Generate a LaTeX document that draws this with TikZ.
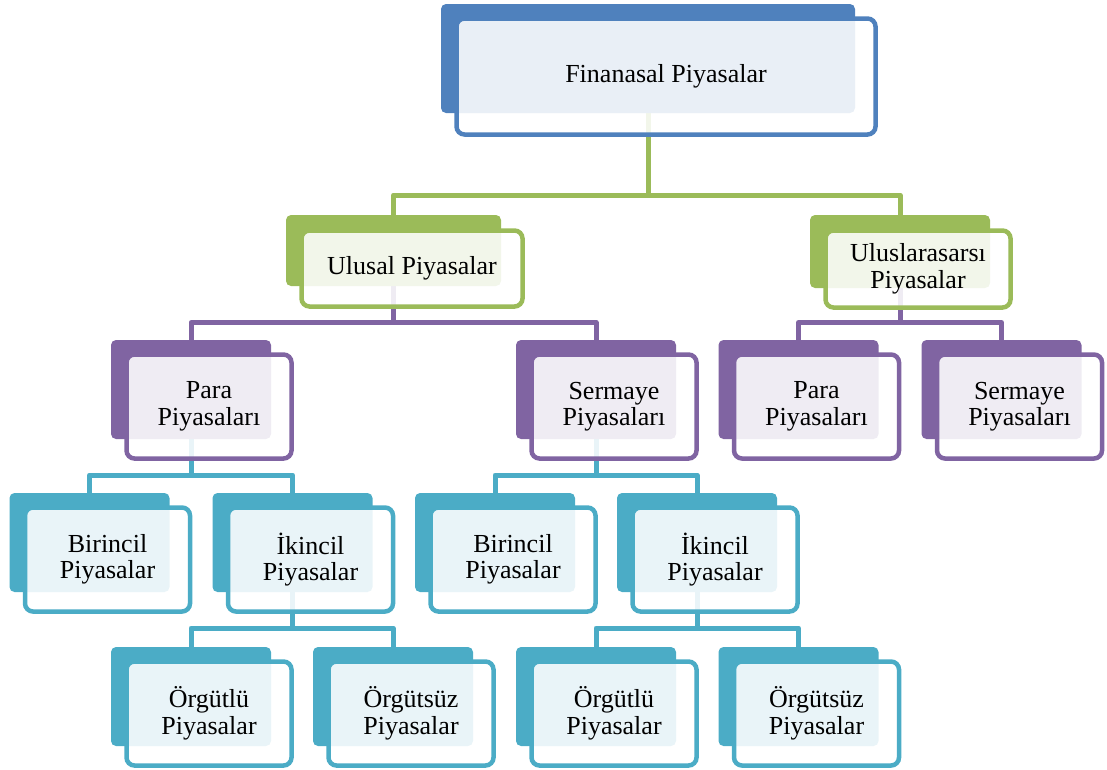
\documentclass[tikz,border=0pt]{standalone}
\usepackage{fontspec}
\setmainfont{Liberation Serif}
\usetikzlibrary{backgrounds}
\definecolor{fblue}{HTML}{4F81BD}
\definecolor{fgreen}{HTML}{9BBB59}
\definecolor{fpurple}{HTML}{8064A2}
\definecolor{fteal}{HTML}{4BACC6}
\begin{document}
\begin{tikzpicture}
[x=1pt,y=-1pt,
backbox/.style={shape=rectangle,rounded corners=5pt,fill=#1,minimum width=160pt,minimum height=99pt,inner sep=0pt},
frontbox/.style={shape=rectangle,rounded corners=8pt,draw=#1,line width=4.5pt,fill=white,fill opacity=0.88,text opacity=1,
  minimum width=165pt,minimum height=104pt,inner sep=0pt,align=center,font=\fontsize{26}{26.5}\selectfont},
link/.style={draw=#1,line width=5pt,line join=round}]

\useasboundingbox (0,0) rectangle (1107,769);

\node[backbox=fblue,minimum width=414pt,minimum height=109pt] (fin) at (648,58.5) {};
\node[frontbox=fblue,minimum width=419pt,minimum height=116pt] (fint) at ([shift={(18,18)}]fin.center) {Finanasal Piyasalar};

\node[backbox=fgreen,minimum width=215pt,minimum height=71pt] (ulu) at (393.5,250.5) {};
\node[frontbox=fgreen,minimum width=221pt,minimum height=76pt] (ulut) at ([shift={(18.5,18)}]ulu.center) {Ulusal Piyasalar};
\node[backbox=fgreen,minimum width=180pt,minimum height=73pt] (int) at (900,251.5) {};
\node[frontbox=fgreen,minimum width=185pt,minimum height=77pt] (intt) at ([shift={(18,17.5)}]int.center) {Uluslarasarsı\\Piyasalar};

\node[backbox=fpurple] (para1) at (191,389.5) {};
\node[frontbox=fpurple] (para1t) at ([shift={(18,17)}]para1.center) {Para\\Piyasaları};
\node[backbox=fpurple] (serm1) at (596,389.5) {};
\node[frontbox=fpurple] (serm1t) at ([shift={(18,17)}]serm1.center) {Sermaye\\Piyasaları};
\node[backbox=fpurple] (para2) at (798.5,389.5) {};
\node[frontbox=fpurple] (para2t) at ([shift={(18,17)}]para2.center) {Para\\Piyasaları};
\node[backbox=fpurple] (serm2) at (1001.5,389.5) {};
\node[frontbox=fpurple] (serm2t) at ([shift={(18,17)}]serm2.center) {Sermaye\\Piyasaları};

\node[backbox=fteal] (bir1) at (89.5,542.5) {};
\node[frontbox=fteal] (bir1t) at ([shift={(18,17)}]bir1.center) {Birincil\\Piyasalar};
\node[backbox=fteal] (iki1) at (292.5,542.5) {};
\node[frontbox=fteal] (iki1t) at ([shift={(18,17)}]iki1.center) {İkincil\\Piyasalar};
\node[backbox=fteal] (bir2) at (495,542.5) {};
\node[frontbox=fteal] (bir2t) at ([shift={(18,17)}]bir2.center) {Birincil\\Piyasalar};
\node[backbox=fteal] (iki2) at (697,542.5) {};
\node[frontbox=fteal] (iki2t) at ([shift={(18,17)}]iki2.center) {İkincil\\Piyasalar};

\node[backbox=fteal] (org1) at (191,696.5) {};
\node[frontbox=fteal] (org1t) at ([shift={(18,17)}]org1.center) {Örgütlü\\Piyasalar};
\node[backbox=fteal] (orgs1) at (393,696.5) {};
\node[frontbox=fteal] (orgs1t) at ([shift={(18,17)}]orgs1.center) {Örgütsüz\\Piyasalar};
\node[backbox=fteal] (org2) at (596,696.5) {};
\node[frontbox=fteal] (org2t) at ([shift={(18,17)}]org2.center) {Örgütlü\\Piyasalar};
\node[backbox=fteal] (orgs2) at (798.5,696.5) {};
\node[frontbox=fteal] (orgs2t) at ([shift={(18,17)}]orgs2.center) {Örgütsüz\\Piyasalar};

\begin{scope}[on background layer]
\coordinate (bus0) at (648,195);
\coordinate (bus1) at (393.5,322.5);
\coordinate (bus2) at (900,322.5);
\coordinate (bus3) at (191,475);
\coordinate (bus4) at (596,475);
\coordinate (bus5) at (292.5,628);
\coordinate (bus6) at (697,628);
\draw[link=fgreen] (fin.center) -- (bus0) -| (ulu.center);
\draw[link=fgreen] (bus0) -| (int.center);
\draw[link=fpurple] (ulu.center) -- (bus1) -| (para1.center);
\draw[link=fpurple] (bus1) -| (serm1.center);
\draw[link=fpurple] (int.center) -- (bus2) -| (para2.center);
\draw[link=fpurple] (bus2) -| (serm2.center);
\draw[link=fteal] (para1.center) -- (bus3) -| (bir1.center);
\draw[link=fteal] (bus3) -| (iki1.center);
\draw[link=fteal] (serm1.center) -- (bus4) -| (bir2.center);
\draw[link=fteal] (bus4) -| (iki2.center);
\draw[link=fteal] (iki1.center) -- (bus5) -| (org1.center);
\draw[link=fteal] (bus5) -| (orgs1.center);
\draw[link=fteal] (iki2.center) -- (bus6) -| (org2.center);
\draw[link=fteal] (bus6) -| (orgs2.center);
\end{scope}
\end{tikzpicture}
\end{document}
